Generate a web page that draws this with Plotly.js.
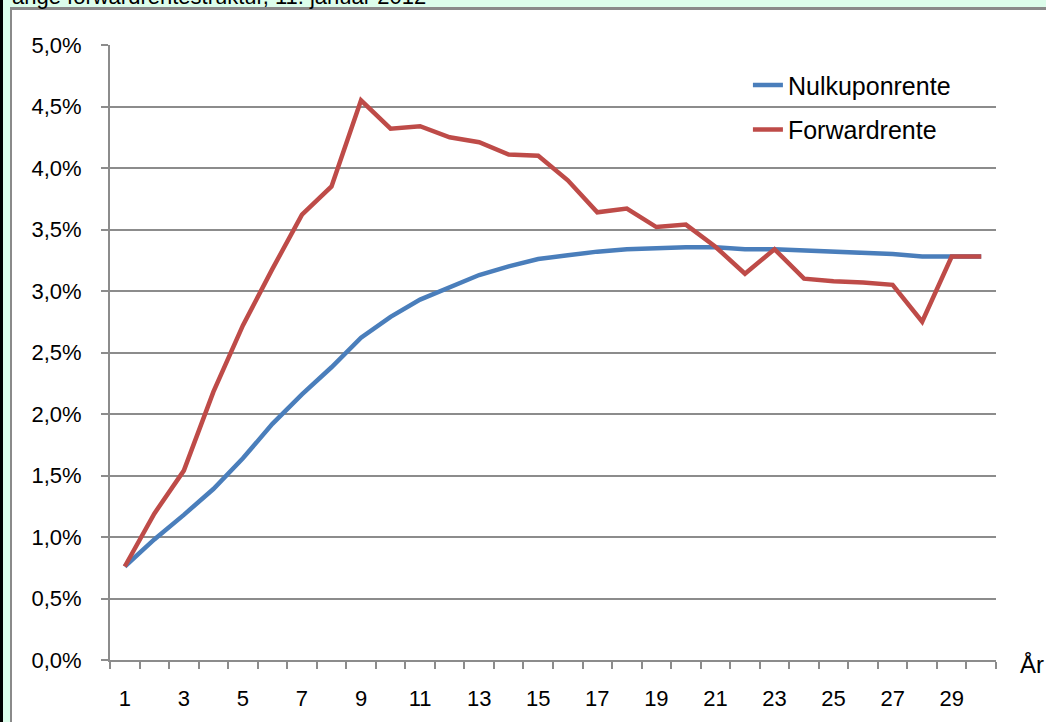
<!DOCTYPE html>
<html>
<head>
<meta charset="utf-8">
<script src="https://cdn.plot.ly/plotly-3.0.1.min.js"></script>
<style>
  html, body { margin: 0; padding: 0; width: 1046px; height: 722px; overflow: hidden; background: #dcfdeb; }
  #blk { position: absolute; left: 0; top: 0; width: 3px; height: 722px; background: #000; }
  #panel { position: absolute; left: 10px; top: 7px; width: 1036px; height: 715px; background: #fff;
           border-left: 2px solid #8a8a8a; border-top: 3px solid #8a8a8a; box-sizing: border-box; }
  #chart { position: absolute; left: 0; top: 0; width: 1046px; height: 722px; }
</style>
</head>
<body>
<div id="blk"></div>
<div id="panel"></div>
<div id="chart"></div>
<script>
// Data (percent)
const years = [1,2,3,4,5,6,7,8,9,10,11,12,13,14,15,16,17,18,19,20,21,22,23,24,25,26,27,28,29,30];
const nulkuponrente = [0.76,0.98,1.18,1.39,1.64,1.92,2.16,2.38,2.62,2.79,2.93,3.03,3.13,3.20,3.26,3.29,3.32,3.34,3.35,3.355,3.355,3.34,3.34,3.33,3.32,3.31,3.30,3.28,3.28,3.28];
const forwardrente = [0.76,1.19,1.54,2.18,2.72,3.18,3.62,3.85,4.55,4.32,4.34,4.25,4.21,4.11,4.10,3.90,3.64,3.67,3.52,3.54,3.36,3.14,3.34,3.10,3.08,3.07,3.05,2.75,3.28,3.28];
const xTickVals = [1,3,5,7,9,11,13,15,17,19,21,23,25,27,29];
const xTickText = ['1','3','5','7','9','11','13','15','17','19','21','23','25','27','29'];
const yTickVals = [0,0.5,1,1.5,2,2.5,3,3.5,4,4.5,5];
const yTickText = ['0,0%','0,5%','1,0%','1,5%','2,0%','2,5%','3,0%','3,5%','4,0%','4,5%','5,0%'];
const titleText = 'ange forwardrentestruktur, 11. januar 2012';
const xAxisLabel = 'År';

const FONT = 'Liberation Sans, Arial, sans-serif';
const GRID = '#8c8c8c';

const traces = [
  { x: years, y: nulkuponrente, type: 'scatter', mode: 'lines', name: 'Nulkuponrente',
    line: { color: '#4a7ebb', width: 4.5 }, legendgroup: 'a' },
  { x: years, y: forwardrente, type: 'scatter', mode: 'lines', name: 'Forwardrente',
    line: { color: '#be4b48', width: 4.5 }, legendgroup: 'b' }
];

const layout = {
  width: 1046, height: 722,
  margin: { l: 110, r: 50, t: 45, b: 62 },
  paper_bgcolor: 'rgba(0,0,0,0)',
  plot_bgcolor: 'rgba(0,0,0,0)',
  separators: ',.',
  font: { family: FONT, size: 22, color: '#000' },
  showlegend: true,
  legend: { x: 0.72, y: 0.972, xanchor: 'left', yanchor: 'top', bgcolor: 'rgba(0,0,0,0)',
            font: { family: FONT, size: 25, color: '#000' }, tracegroupgap: 9 },
  xaxis: {
    range: [0.5, 30.5], tickmode: 'array', tickvals: xTickVals, ticktext: xTickText,
    ticks: '', showgrid: false, zeroline: false,
    showline: true, linecolor: GRID, linewidth: 2,
    ticklabelstandoff: 18,
    tickfont: { family: FONT, size: 22, color: '#000' },
    minor: { tick0: 0.5, dtick: 1, ticks: 'outside', ticklen: 7, tickcolor: GRID, tickwidth: 2, showgrid: false }
  },
  yaxis: {
    range: [0, 5], tickmode: 'array', tickvals: yTickVals, ticktext: yTickText,
    ticks: 'outside', ticklen: 7, tickcolor: GRID, tickwidth: 2,
    showgrid: true, gridcolor: GRID, gridwidth: 2,
    zeroline: false, showline: true, linecolor: GRID, linewidth: 2,
    ticklabelstandoff: 15,
    tickfont: { family: FONT, size: 22, color: '#000' }
  },
  annotations: [
    { text: xAxisLabel, xref: 'paper', yref: 'paper', x: 1.025, y: -0.008, xanchor: 'left', yanchor: 'middle',
      showarrow: false, font: { family: FONT, size: 24, color: '#000' } },
    { text: titleText, xref: 'paper', yref: 'paper', x: -0.113, y: 1.079, xanchor: 'left', yanchor: 'middle',
      showarrow: false, font: { family: FONT, size: 22, color: '#000' } }
  ]
};

Plotly.newPlot('chart', traces, layout, { displayModeBar: false, staticPlot: true });
</script>
</body>
</html>
